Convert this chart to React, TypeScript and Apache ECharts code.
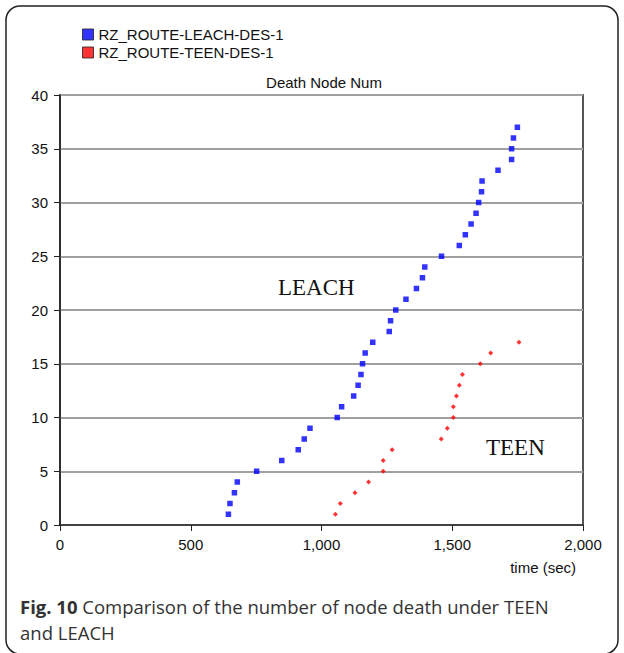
import React, { useEffect, useRef } from "react";
import * as echarts from "echarts";

const leachTimes = [644, 650, 667, 678, 752, 848, 911, 934, 956, 1060, 1077, 1123, 1140, 1151, 1157, 1167, 1196, 1259, 1264, 1284, 1323, 1363, 1386, 1395, 1459, 1527, 1550, 1572, 1591, 1601, 1612, 1614, 1675, 1727, 1727, 1734, 1749];
const leachCounts = [1, 2, 3, 4, 5, 6, 7, 8, 9, 10, 11, 12, 13, 14, 15, 16, 17, 18, 19, 20, 21, 22, 23, 24, 25, 26, 27, 28, 29, 30, 31, 32, 33, 34, 35, 36, 37];
const teenTimes = [1053, 1072, 1128, 1180, 1236, 1236, 1270, 1458, 1481, 1504, 1504, 1516, 1527, 1539, 1607, 1647, 1755];
const teenCounts = [1, 2, 3, 4, 5, 6, 7, 8, 9, 10, 11, 12, 13, 14, 15, 16, 17];
const seriesNames = ["RZ_ROUTE-LEACH-DES-1", "RZ_ROUTE-TEEN-DES-1"];
const chartTitle = "Death Node Num";
const xAxisName = "time (sec)";
const annotations = ["LEACH", "TEEN"];
const captionBold = "Fig. 10";
const captionLine1 = " Comparison of the number of node death under TEEN";
const captionLine2 = "and LEACH";

const SANS = "'Liberation Sans', Arial, sans-serif";

export default function App() {
  const ref = useRef<HTMLDivElement>(null);
  useEffect(() => {
    document.body.style.margin = "0";
    const chart = echarts.init(ref.current!, null, { renderer: "svg" });
    const leachData = leachTimes.map((t, i) => [t, leachCounts[i]]);
    const teenData = teenTimes.map((t, i) => [t, teenCounts[i]]);
    chart.setOption({
      animation: false,
      backgroundColor: "#ffffff",
      title: {
        text: chartTitle,
        left: 319,
        textAlign: "center",
        top: 70,
        textStyle: { fontFamily: SANS, fontSize: 15, fontWeight: "normal", color: "#111" },
      },
      legend: {
        orient: "vertical",
        left: 77,
        top: 22,
        itemWidth: 11,
        itemHeight: 11,
        itemGap: 3,
        textStyle: { fontFamily: SANS, fontSize: 15, color: "#111" },
        data: [
          { name: seriesNames[0], icon: "rect", itemStyle: { color: "#0000ff", borderColor: "#222", borderWidth: 1 } },
          { name: seriesNames[1], icon: "rect", itemStyle: { color: "#ff0000", borderColor: "#222", borderWidth: 1 } },
        ],
      },
      grid: {
        left: 60,
        right: 41,
        top: 95,
        bottom: 128,
        show: true,
        borderColor: "#555",
        borderWidth: 2,
        backgroundColor: "transparent",
      },
      xAxis: {
        type: "value",
        min: 0,
        max: 2000,
        interval: 500,
        axisLine: { show: true, lineStyle: { color: "#222", width: 1.5 } },
        axisTick: { show: true, length: 6, lineStyle: { color: "#222" } },
        splitLine: { show: false },
        axisLabel: {
          margin: 12,
          fontFamily: SANS,
          fontSize: 15,
          color: "#111",
          formatter: (v: number) => v.toLocaleString("en-US"),
        },
      },
      yAxis: {
        type: "value",
        min: 0,
        max: 40,
        interval: 5,
        axisLine: { show: true, lineStyle: { color: "#222", width: 1.5 } },
        axisTick: { show: true, length: 6, lineStyle: { color: "#222" } },
        splitLine: { show: true, lineStyle: { color: "#a0a0a0", width: 2 } },
        axisLabel: { margin: 12, fontFamily: SANS, fontSize: 15, color: "#111" },
      },
      series: [
        {
          name: seriesNames[0],
          type: "scatter",
          symbol: "rect",
          symbolSize: 5.5,
          itemStyle: { color: "#0000ff" },
          data: leachData,
        },
        {
          name: seriesNames[1],
          type: "scatter",
          symbol: "diamond",
          symbolSize: 5,
          itemStyle: { color: "#ff0000" },
          data: teenData,
        },
      ],
      graphic: [
        {
          type: "rect",
          shape: { x: 6, y: 6, width: 612, height: 648, r: 14 },
          style: { fill: "none", stroke: "#222", lineWidth: 1.5 },
          z: 100,
        },
        {
          type: "text",
          x: 278,
          y: 287,
          style: { text: annotations[0], font: "23px 'Liberation Serif', 'Times New Roman', serif", fill: "#111", textVerticalAlign: "middle" },
        },
        {
          type: "text",
          x: 486,
          y: 447,
          style: { text: annotations[1], font: "23px 'Liberation Serif', 'Times New Roman', serif", fill: "#111", textVerticalAlign: "middle" },
        },
        {
          type: "text",
          x: 576,
          y: 567,
          style: { text: xAxisName, font: "15px 'Liberation Sans', Arial, sans-serif", fill: "#111", textAlign: "right", textVerticalAlign: "middle" },
        },
        {
          type: "text",
          x: 20,
          y: 606,
          style: {
            text: "{b|" + captionBold + "}{n|" + captionLine1 + "}",
            textVerticalAlign: "middle",
            rich: {
              b: { font: "bold 18.5px 'Open Sans', 'Noto Sans', sans-serif", fill: "#333" },
              n: { font: "18.5px 'Open Sans', 'Noto Sans', sans-serif", fill: "#333" },
            },
          },
        },
        {
          type: "text",
          x: 20,
          y: 632,
          style: { text: captionLine2, font: "18.5px 'Open Sans', 'Noto Sans', sans-serif", fill: "#333", textVerticalAlign: "middle" },
        },
      ],
    });
    return () => chart.dispose();
  }, []);
  return <div ref={ref} style={{ width: 624, height: 653 }} />;
}
